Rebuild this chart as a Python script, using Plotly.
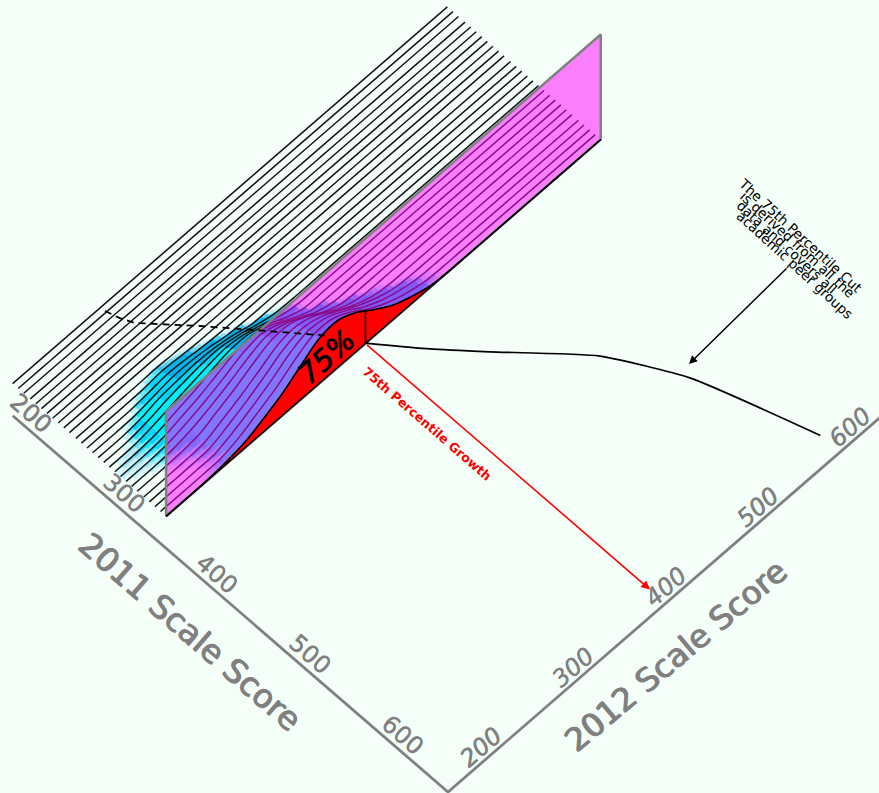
import plotly.graph_objects as go

# 2011 scale score of each slice, front (the magenta wall) to back
scores_2011 = [337, 331, 325, 319, 313, 306, 300, 294, 288, 282, 276, 270, 264, 258,
               252, 246, 240, 233, 227, 221, 215, 209, 203, 197, 191, 184, 178, 172]
# 2012 scale score grid shared by all slices
scores_2012 = [174, 200, 220, 240, 260, 280, 300, 320, 340, 360, 380, 400, 420, 440, 460, 480, 500, 645]

# height of the conditional density on each slice
z0 = [0, .1, .6, 2.5, 6, 13.5, 22, 34, 45, 47, 39, 26, 14.5, 7, 1.5, 0, 0, 0]
z1 = [0, 0, .2, 1, 6.3, 14.8, 23.8, 35.3, 44.2, 43.7, 34.6, 22, 12.2, 5.4, 1, 0, 0, 0]
z2 = [0, .1, .3, 1.2, 7.4, 15.8, 25.3, 36.3, 43.2, 40.3, 30.8, 18.9, 9.9, 3.9, .6, 0, 0, 0]
z3 = [0, .1, .4, 1.5, 8.5, 16.7, 26.4, 36.5, 40.9, 36.4, 26.4, 15.6, 7, 1.5, 0, 0, 0, 0]
z4 = [0, .2, .6, 2, 9.5, 17.5, 27, 36.2, 38.5, 32.6, 21, 10.5, 3, 0, 0, 0, 0, 0]
z5 = [.1, .3, 1, 3, 10.5, 18.3, 27.6, 35.1, 35, 27, 15, 5, .5, 0, 0, 0, 0, 0]
z6 = [.2, .5, 1.9, 5.7, 11.9, 19.2, 27.8, 33.5, 30, 20, 9, 1.5, 0, 0, 0, 0, 0, 0]
z7 = [.3, .7, 2.2, 6.5, 12.2, 19.3, 27.1, 30.5, 25, 15, 5, 0, 0, 0, 0, 0, 0, 0]
z8 = [.4, .8, 2.4, 7.2, 12.4, 19.2, 25.5, 27, 20, 10, 1.5, 0, 0, 0, 0, 0, 0, 0]
z9 = [.3, .9, 2.8, 7.6, 12.3, 18.3, 22.5, 22, 15, 6, 0, 0, 0, 0, 0, 0, 0, 0]
z10 = [.1, .6, 3.5, 7.8, 12, 16, 18.5, 16, 10, 3, 0, 0, 0, 0, 0, 0, 0, 0]
z11 = [0, .4, 3, 7.4, 10.8, 13.5, 14, 10.5, 5, .8, 0, 0, 0, 0, 0, 0, 0, 0]
z12 = [0, .1, 2, 6.5, 8.5, 10, 9, 5.5, .5, 0, 0, 0, 0, 0, 0, 0, 0, 0]
z13 = [0, 0, .6, 3.5, 6.5, 6.5, 4.5, 1, 0, 0, 0, 0, 0, 0, 0, 0, 0, 0]
z14 = [0, 0, .1, 2, 4.2, 3.2, 1, 0, 0, 0, 0, 0, 0, 0, 0, 0, 0, 0]
z15 = [0, 0, 0, .5, 2.4, 1.2, 0, 0, 0, 0, 0, 0, 0, 0, 0, 0, 0, 0]
z16 = [0, 0, 0, 0, .6, 0, 0, 0, 0, 0, 0, 0, 0, 0, 0, 0, 0, 0]
z_flat = [0] * 18
z_rows = [z0, z1, z2, z3, z4, z5, z6, z7, z8, z9, z10, z11, z12, z13, z14, z15, z16,
          z_flat, z_flat, z_flat, z_flat, z_flat, z_flat, z_flat, z_flat, z_flat, z_flat, z_flat]

# 75th percentile growth path: 2011 score -> 2012 score
cut_dashed_s = [176.6, 189, 200, 237, 272, 310]
cut_dashed_t = [269.5, 273, 278, 311.4, 341, 373]
cut_solid_s = [336.4, 375, 409, 471, 533, 639]
cut_solid_t = [390, 421.5, 452, 509, 544, 578.6]

ticks = [200, 300, 400, 500, 600]
tick_labels = ["200", "300", "400", "500", "600"]
WALL_TOP = 105
CUT_T = 390
ARROW_END_S = 643
GREY = "#808080"
BG = "#F5FFFA"


def P(s, t, z=0):
    """Oblique projection of (2011 score, 2012 score, height) onto the page."""
    u, v = s - 660, t - 154
    return 448 + .93 * u + .923 * v, 792 + .804 * u - .80 * v - z


def line(pts, **kw):
    xs, ys = zip(*pts)
    return go.Scatter(x=xs, y=ys, mode="lines", hoverinfo="skip", showlegend=False, **kw)


fig = go.Figure()

# coloured surface: each cell is split into small patches only to shade it
SHADES = {"bright": "0,238,250", "mid": "0,215,250", "deep": "0,180,238"}
LEVELS = [.12, .25, .4, .55, .7, .85, 1.0]
patches = {(sh, a): ([], []) for sh in SHADES for a in LEVELS}
N_T, N_S = 4, 3
for k in range(len(scores_2011) - 1):
    for j in range(len(scores_2012) - 2):
        za, zb = z_rows[k], z_rows[k + 1]
        if max(za[j], za[j + 1], zb[j], zb[j + 1]) < .2:
            continue
        dt = scores_2012[j + 1] - scores_2012[j]
        slope = ((za[j + 1] - za[j]) + (zb[j + 1] - zb[j])) / (2 * dt)
        shade = "bright" if slope > .15 else ("mid" if slope > .05 else "deep")

        def corner(fs, ft):
            sv = scores_2011[k] + fs * (scores_2011[k + 1] - scores_2011[k])
            tv = scores_2012[j] + ft * dt
            zf = za[j] + ft * (za[j + 1] - za[j])
            zg = zb[j] + ft * (zb[j + 1] - zb[j])
            zv = zf + fs * (zg - zf)
            return P(sv, tv, zv), zv

        for m in range(N_S):
            for i in range(N_T):
                c = [corner(m / N_S, i / N_T), corner(m / N_S, (i + 1) / N_T),
                     corner((m + 1) / N_S, (i + 1) / N_T), corner((m + 1) / N_S, i / N_T)]
                mean = sum(q[1] for q in c) / 4
                stripe = [.55, .9, 1.5][m]
                alpha = max(0, (mean - .25) / 1.3) * stripe
                if alpha < .06:
                    continue
                alpha = next(v for v in LEVELS if alpha <= v + .07 or v == 1.0)
                bx, by = patches[(shade, alpha)]
                for q in c + c[:1]:
                    bx.append(q[0][0])
                    by.append(q[0][1])
                bx.append(None)
                by.append(None)
for (sh, a), (bx, by) in patches.items():
    if bx:
        fig.add_trace(go.Scatter(x=bx, y=by, mode="lines", fill="toself", line=dict(width=0),
                                 fillcolor=f"rgba({SHADES[sh]},{a})", hoverinfo="skip", showlegend=False))

# slice lines, back to front
for k in range(len(scores_2011) - 1, 0, -1):
    pts = [P(scores_2011[k], t, z) for t, z in zip(scores_2012, z_rows[k])]
    fig.add_trace(line(pts, line=dict(color="#101818", width=1.5, shape="spline", smoothing=.9)))

# magenta wall
s_w = scores_2011[0]
t0, t1 = scores_2012[0], scores_2012[-1]
wall = [P(s_w, t0, 0), P(s_w, t1, 0), P(s_w, t1, WALL_TOP), P(s_w, t0, WALL_TOP), P(s_w, t0, 0)]
fig.add_trace(line(wall, fill="toself", fillcolor="rgba(255,0,255,0.5)", line=dict(color=GREY, width=2.5)))

# red area under the front slice
fig.add_trace(line([P(s_w, t, 0) for t in scores_2012], line=dict(color="black", width=1.5)))
fig.add_trace(line([P(s_w, t, z) for t, z in zip(scores_2012, z0)], fill="tonexty", fillcolor="#FF0000",
                   line=dict(color="black", width=1.6, shape="spline", smoothing=.9)))
# cut marker on the wall
fig.add_trace(line([P(s_w, CUT_T, 0), P(s_w, CUT_T, 33)], line=dict(color="black", width=1.6)))

# percentile path
fig.add_trace(line([P(s, t) for s, t in zip(cut_dashed_s, cut_dashed_t)],
                   line=dict(color="black", width=1.8, dash="7px,5px")))
fig.add_trace(line([P(s, t) for s, t in zip(cut_solid_s, cut_solid_t)],
                   line=dict(color="black", width=1.7, shape="spline", smoothing=.5)))

# floor axes
fig.add_trace(line([P(192, 154), P(660, 154), P(660, 622)], line=dict(color=GREY, width=2.8)))

ann = []


def text(x, y, s, size, angle, color="black", shadow=None, family="DejaVu Sans"):
    f = dict(size=size, color=color, family=family)
    if shadow:
        f["shadow"] = shadow
    ann.append(dict(x=x, y=y, xref="x", yref="y", text=s, showarrow=False, textangle=angle,
                    xanchor="center", yanchor="middle", font=f))


for tk, lb in zip(ticks, tick_labels):
    x, y = P(tk, 165.5)
    text(x, y, lb, 24, 41, GREY, f"0.4px 0.4px 0 {GREY}")
    x, y = P(650, tk)
    text(x, y, f"<i>{lb}</i>", 24, -41, GREY, f"0.4px 0.4px 0 {GREY}")

thick = f"0.8px 0.8px 0 {GREY}, -0.5px 0.5px 0 {GREY}"
x, y = P(422, 114.6)
text(x, y, "2011 Scale Score", 32.5, 41, GREY, thick)
x, y = P(698, 363)
text(x, y, "2012 Scale Score", 32, -40, GREY, thick)

text(326, 357, "<i>75%</i>", 29, -42, "black", "0.6px 0.6px 0 black")
text(427, 423, "<b>75th Percentile Growth</b>", 12.6, 41, "#FF0000")

text(800, 235, "The 75th Percentile Cut", 13.6, 42.5)
text(797, 244, "is derived from all the", 13.6, 42.5)
text(787, 247, "data and covers all", 13.6, 42.5)
text(795, 265, "academic peer groups", 13.6, 42.5)

# red growth arrow
ax, ay = P(s_w, CUT_T)
ex, ey = P(ARROW_END_S, CUT_T)
ann.append(dict(x=ex, y=ey, ax=ax, ay=ay, xref="x", yref="y", axref="x", ayref="y", text="", showarrow=True,
                arrowhead=2, arrowsize=1.1, arrowwidth=1.6, arrowcolor="#FF0000"))
# black call-out arrow
ann.append(dict(x=689, y=364, ax=788, ay=267, xref="x", yref="y", axref="x", ayref="y", text="", showarrow=True,
                arrowhead=2, arrowsize=1.1, arrowwidth=1.5, arrowcolor="black"))

fig.update_layout(
    width=879, height=793, margin=dict(l=0, r=0, t=0, b=0), showlegend=False,
    paper_bgcolor=BG, plot_bgcolor=BG, annotations=ann,
    xaxis=dict(range=[0, 879], visible=False, fixedrange=True),
    yaxis=dict(range=[793, 0], visible=False, fixedrange=True),
)
fig.write_html("out.html", config=dict(displayModeBar=False),
               post_script="document.body.style.margin='0';document.body.style.overflow='hidden';")
